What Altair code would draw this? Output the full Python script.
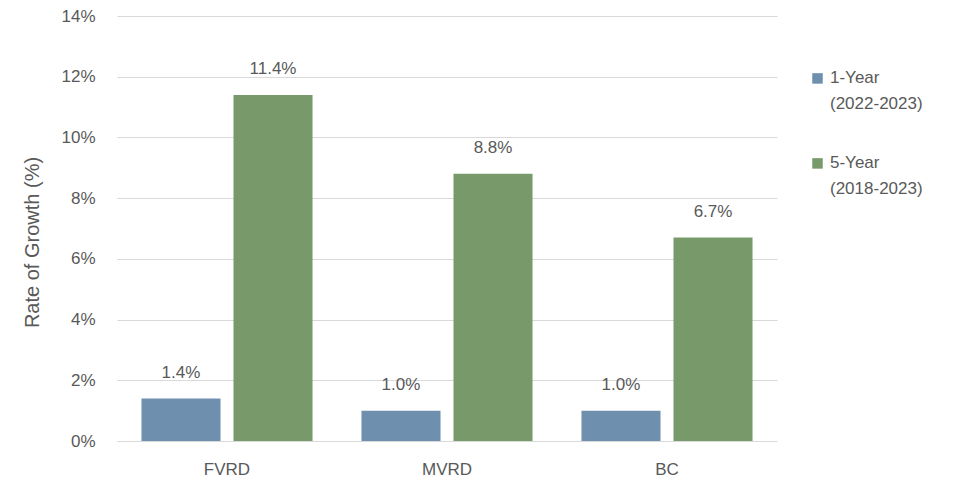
import altair as alt
import pandas as pd

regions = ["FVRD", "MVRD", "BC"]
series = ["1-Year|(2022-2023)", "5-Year|(2018-2023)"]
one_year = [0.014, 0.010, 0.010]
five_year = [0.114, 0.088, 0.067]

rows = []
for i, r in enumerate(regions):
    rows.append({"region": r, "series": series[0], "value": one_year[i]})
    rows.append({"region": r, "series": series[1], "value": five_year[i]})
df = pd.DataFrame(rows)

FONT = "Liberation Sans"
GRAY = "#595959"

x = alt.X("region:N", sort=regions, title=None,
          scale=alt.Scale(paddingInner=0.0, paddingOuter=0.0),
          axis=alt.Axis(labelAngle=0, domain=False, ticks=False, labelPadding=20,
                        labelFont=FONT, labelFontSize=17, labelColor=GRAY))
xoff = alt.XOffset("series:N", sort=series,
                   scale=alt.Scale(paddingInner=0.141, paddingOuter=0.266))
y = alt.Y("value:Q", title="Rate of Growth (%)",
          scale=alt.Scale(domain=[0, 0.14]),
          axis=alt.Axis(format=".0%", values=[0, 0.02, 0.04, 0.06, 0.08, 0.10, 0.12, 0.14],
                        domain=False, ticks=False, labelPadding=22,
                        grid=True, gridColor="#D9D9D9", gridWidth=1,
                        labelFont=FONT, labelFontSize=17, labelColor=GRAY,
                        titleFont=FONT, titleFontSize=20, titleColor=GRAY,
                        titleFontWeight="normal", titlePadding=18, titleY=226))

color = alt.Color("series:N", sort=series,
                  scale=alt.Scale(domain=series, range=["#6F8FAF", "#789A6B"]),
                  legend=alt.Legend(title=None, orient="none", legendX=692, legendY=45,
                                    symbolType="M-1,0.7H1V2.7H-1Z", symbolSize=110,
                                    symbolStrokeWidth=0,
                                    labelExpr="split(datum.label, '|')",
                                    labelFont=FONT, labelFontSize=17, labelColor=GRAY,
                                    labelLimit=300, labelBaseline="top", labelOffset=4,
                                    rowPadding=34))

base = alt.Chart(df).encode(x=x, xOffset=xoff, y=y)
bars = base.mark_bar(opacity=1).encode(color=color)
labels = base.mark_text(baseline="bottom", dy=-17, font=FONT, fontSize=17, color=GRAY).encode(
    text=alt.Text("value:Q", format=".1%"))

chart = (bars + labels).properties(
    width=660, height=425,
    autosize=alt.AutoSizeParams(type="none"),
    padding={"left": 109, "top": 8, "right": 170, "bottom": 40},
).configure(background="white", style={"guide-label": {"lineHeight": 26}}
).configure_view(stroke=None, strokeWidth=0)

chart.save("out.html", embed_options={"renderer": "svg", "actions": False})
